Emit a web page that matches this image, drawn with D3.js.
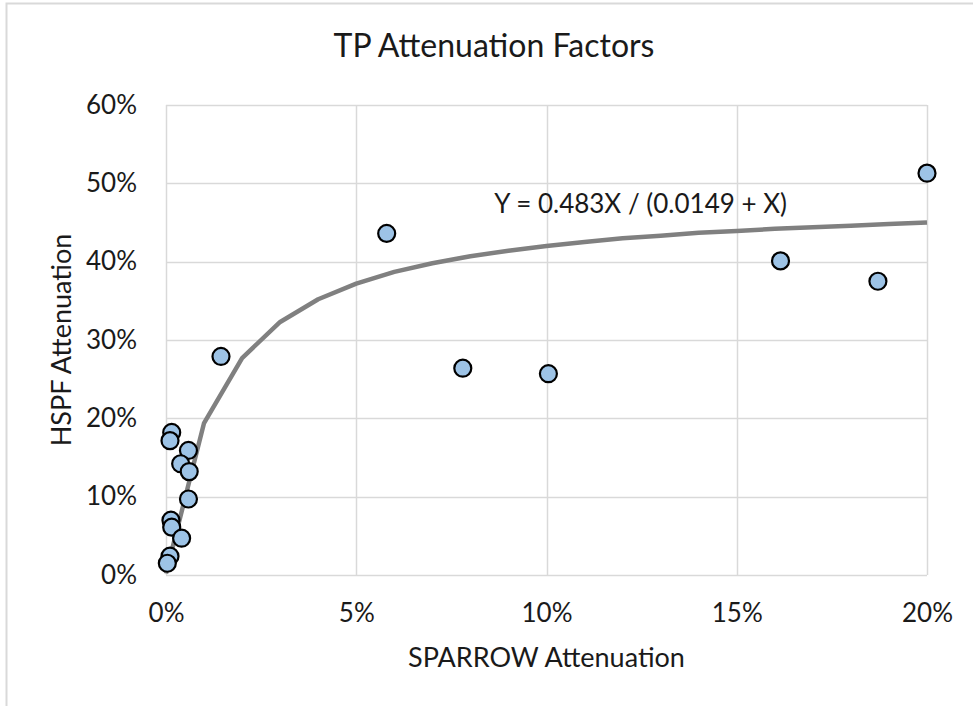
<!DOCTYPE html>
<html lang="en">
    <head>
        <meta charset="utf-8">
        <title>TP Attenuation Factors</title>
        <script type="text/javascript" src="https://cdn.jsdelivr.net/npm/d3@7"></script>
        <style type="text/css">
            body { margin: 0; background: #fff; }
            text { font-family: Lato, "Open Sans", sans-serif; fill: #1a1a1a; }
        </style>
    </head>

    <body>
        <script>
         // observed points (fractions)
         var sparrow = [0.01445, 0.0015, 0.00105, 0.0059, 0.00385, 0.0061, 0.0059, 0.0013, 0.0015, 0.0041, 0.00105, 0.00035,
                        0.0580, 0.0780, 0.1005, 0.1615, 0.1871, 0.2000];
         var hspf = [0.279, 0.182, 0.1715, 0.159, 0.142, 0.132, 0.097, 0.070, 0.061, 0.047, 0.024, 0.015,
                     0.436, 0.264, 0.257, 0.401, 0.375, 0.513];

         // fitted curve vertices
         var trendX = [0, 0.01, 0.02, 0.03, 0.04, 0.05, 0.06, 0.07, 0.08, 0.09, 0.10,
                       0.11, 0.12, 0.13, 0.14, 0.15, 0.16, 0.17, 0.18, 0.19, 0.20];
         var trendY = [0.002, 0.194, 0.277, 0.323, 0.352, 0.372, 0.387, 0.398, 0.407, 0.414, 0.420,
                       0.425, 0.430, 0.433, 0.437, 0.439, 0.442, 0.444, 0.446, 0.448, 0.450];

         var xTicks = [0, 0.05, 0.10, 0.15, 0.20];
         var yTicks = [0, 0.1, 0.2, 0.3, 0.4, 0.5, 0.6];

         var title = "TP Attenuation Factors";
         var xTitle = "SPARROW Attenuation";
         var yTitle = "HSPF Attenuation";
         var equation = "Y = 0.483X / (0.0149 + X)";

         const width = 973;
         const height = 706;
         var plot = {left: 166, right: 927, top: 105, bottom: 575};

         var svg = d3.select("body").append("svg")
                     .attr("width", width)
                     .attr("height", height);

         // chart area border
         svg.append("rect")
            .attr("x", 6.5).attr("y", 3.5)
            .attr("width", width + 20).attr("height", height + 20)
            .attr("fill", "#fff")
            .attr("stroke", "#d9d9d9")
            .attr("stroke-width", 2);

         const xScale = d3.scaleLinear().domain([0, 0.2]).range([plot.left, plot.right]);
         const yScale = d3.scaleLinear().domain([0, 0.6]).range([plot.bottom, plot.top]);
         var fmt = d3.format(".0%");

         // gridlines
         svg.append("g").selectAll("line.v")
            .data(xTicks).enter().append("line")
            .attr("x1", d => Math.round(xScale(d)) + 0.5).attr("x2", d => Math.round(xScale(d)) + 0.5)
            .attr("y1", plot.top).attr("y2", plot.bottom)
            .attr("stroke", "#d9d9d9").attr("stroke-width", 1.5);
         svg.append("g").selectAll("line.h")
            .data(yTicks).enter().append("line")
            .attr("x1", plot.left).attr("x2", plot.right)
            .attr("y1", d => Math.round(yScale(d)) + 0.5).attr("y2", d => Math.round(yScale(d)) + 0.5)
            .attr("stroke", "#d9d9d9").attr("stroke-width", 1.5);

         // axes (labels only, lines drawn as grid)
         const xAxis = d3.axisBottom(xScale).tickValues(xTicks).tickFormat(fmt).tickSize(0).tickPadding(29);
         const gX = svg.append("g").attr("transform", `translate(0,${plot.bottom})`).call(xAxis);
         const yAxis = d3.axisLeft(yScale).tickValues(yTicks).tickFormat(fmt).tickSize(0).tickPadding(29);
         const gY = svg.append("g").attr("transform", `translate(${plot.left},0)`).call(yAxis);
         [gX, gY].forEach(function(g) {
             g.select(".domain").remove();
             g.selectAll("text").style("font-size", "26px").style("font-family", "Lato").attr("fill", "#1a1a1a");
         });

         // trend curve
         var line = d3.line()
             .x(function(d, i) { return xScale(trendX[i]); })
             .y(function(d) { return yScale(d); });
         svg.append("path")
            .datum(trendY)
            .attr("d", line)
            .attr("fill", "none")
            .attr("stroke", "#808080")
            .attr("stroke-width", 4.5)
            .attr("stroke-linejoin", "round");

         // points
         svg.selectAll("circle")
            .data(sparrow)
            .enter()
            .append("circle")
            .attr("cx", d => xScale(d))
            .attr("cy", (d, i) => yScale(hspf[i]))
            .attr("r", 8.5)
            .attr("fill", "#9dc3e6")
            .attr("stroke", "#000")
            .attr("stroke-width", 2.2);

         // texts
         svg.append("text").text(title)
            .attr("x", 494).attr("y", 57)
            .attr("text-anchor", "middle")
            .style("font-size", "32px");
         svg.append("text").text(equation)
            .attr("x", 787).attr("y", 213)
            .attr("text-anchor", "end")
            .style("font-size", "26px");
         svg.append("text").text(xTitle)
            .attr("x", (plot.left + plot.right) / 2).attr("y", 667)
            .attr("text-anchor", "middle")
            .style("font-size", "27px");
         svg.append("text").text(yTitle)
            .attr("transform", `translate(71,${(plot.top + plot.bottom) / 2}) rotate(-90)`)
            .attr("text-anchor", "middle")
            .style("font-size", "27px");
        </script>
    </body>
</html>
